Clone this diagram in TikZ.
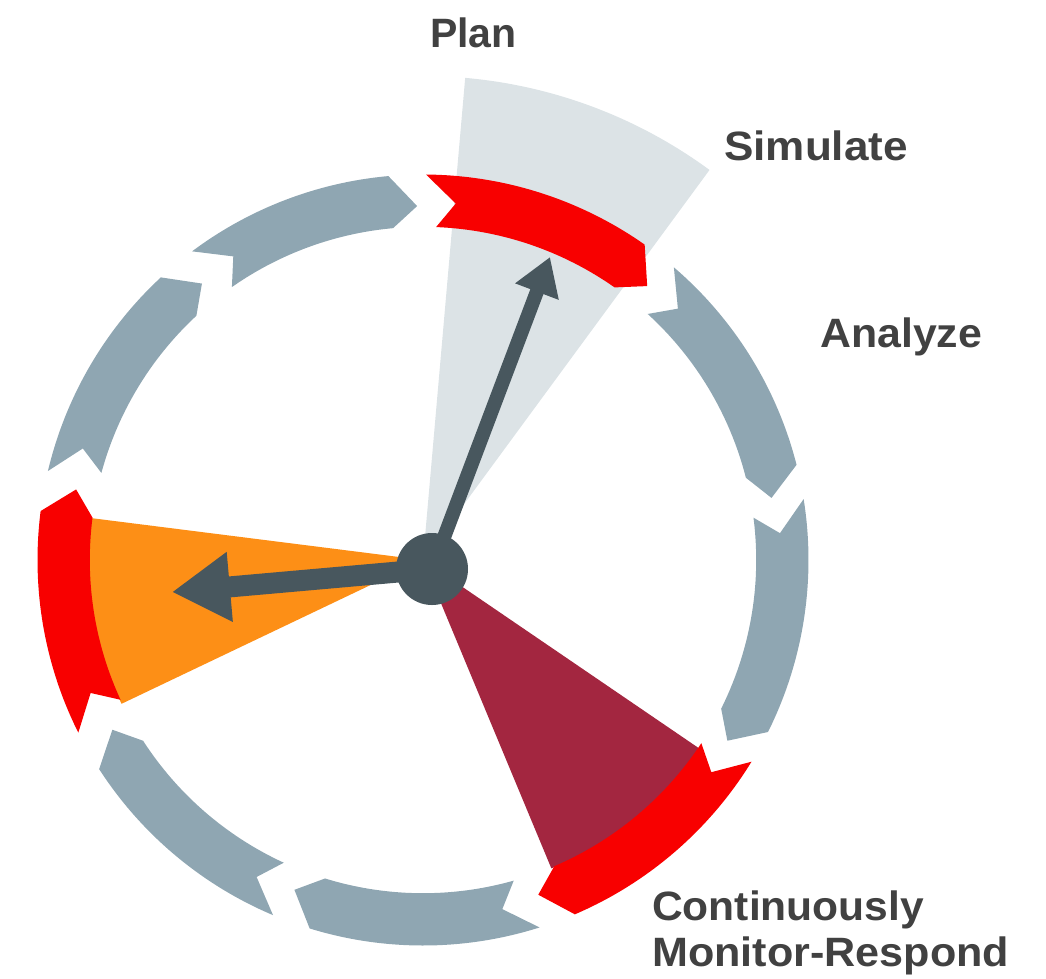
\documentclass[tikz,border=0pt]{standalone}
\usepackage{fontspec}
\setmainfont{Liberation Sans}
\usetikzlibrary{arrows.meta}
\definecolor{ringgray}{HTML}{8FA6B2}
\definecolor{ringred}{HTML}{F80000}
\definecolor{wedgeorange}{HTML}{FD8F16}
\definecolor{wedgemaroon}{HTML}{A32640}
\definecolor{wedgelight}{HTML}{DCE3E6}
\definecolor{slate}{HTML}{48575E}
\definecolor{labeltext}{HTML}{414141}
\def\Ro{385.5}
\def\Ri{333.2}
\def\Rt{354}
\def\Rn{358}
\newcommand\ringseg[3]{%
  \pgfmathsetmacro\sa{#1-90}%
  \pgfmathsetmacro\sh{#2-90}%
  \pgfmathsetmacro\st{#2+4.2-90}%
  \pgfmathsetmacro\si{#1+1.8-90}%
  \pgfmathsetmacro\sn{#1+4.8-90}%
  \fill[#3] (\sa:\Ro) -- plot[domain=\sa:\sh,samples=50] (\x:\Ro) -- (\st:\Rt) -- (\sh:\Ri) -- plot[domain=\sh:\si,samples=50] (\x:\Ri) -- (\sn:\Rn) -- cycle;%
}
\tikzset{
  lbl/.style={anchor=base west, inner sep=0pt, text=labeltext, font=\fontsize{41}{41}\selectfont\bfseries},
  hubstyle/.style={circle, fill=slate, minimum size=72pt, inner sep=0pt},
  pointer/.style={draw=slate, line width=#1},
}
\begin{document}
\begin{tikzpicture}[x=1pt,y=-1pt]
\useasboundingbox (0,0) rectangle (1046,978);
\begin{scope}[shift={(423,560)}]
  % wedges
  \fill[wedgelight] (0,0) -- plot[domain=-85:-53.7,samples=50] (\x:484) -- cycle;
  \fill[wedgeorange] (0,0) -- plot[domain=154.5:187.2,samples=50] (\x:334) -- cycle;
  \fill[wedgemaroon] (0,0) -- plot[domain=34.3:67.4,samples=50] (\x:334) -- cycle;
  % ring
  \ringseg{0.45}{35.1}{ringred}
  \ringseg{40.6}{75.7}{ringgray}
  \ringseg{80.9}{116.5}{ringgray}
  \ringseg{121.55}{156.8}{ringred}
  \ringseg{162.4}{197.1}{ringgray}
  \ringseg{202.9}{237.15}{ringgray}
  \ringseg{243.4}{277.3}{ringred}
  \ringseg{283.35}{317.15}{ringgray}
  \ringseg{323.2}{354.85}{ringgray}
\end{scope}
\coordinate (hubc) at (432,569);
\coordinate (tipup) at (550,257);
\coordinate (tipleft) at (172,592);
\draw[pointer=14pt, -{Triangle[length=37pt,width=44pt]}, slate] (hubc) -- (tipup);
\draw[pointer=21pt, -{Triangle[length=58pt,width=66pt]}, slate] (hubc) -- (tipleft);
\node[hubstyle] (hub) at (hubc) {};
\node[lbl] (plan) at (430,47) {Plan};
\node[lbl] (simulate) at (724,160) {\scalebox{1.075}[1]{Simulate}};
\node[lbl] (analyze) at (820,347) {\scalebox{1.045}[1]{Analyze}};
\node[lbl] (cont) at (652,920) {\scalebox{1.038}[1]{Continuously}};
\node[lbl] (monitor) at (652,966) {\scalebox{1.052}[1]{Monitor-Respond}};
\end{tikzpicture}
\end{document}
